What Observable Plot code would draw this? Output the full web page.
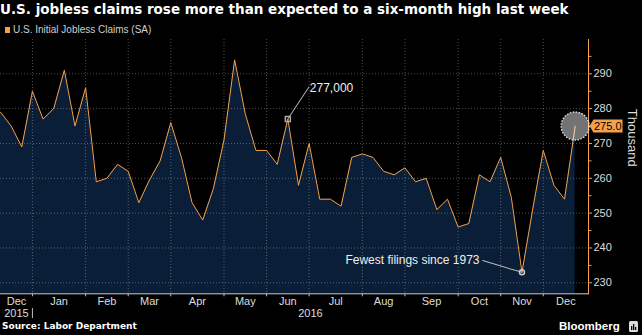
<!DOCTYPE html>
<html>
<head>
<meta charset="utf-8">
<script src="https://cdn.jsdelivr.net/npm/d3@7"></script>
<script src="https://cdn.jsdelivr.net/npm/@observablehq/plot@0.6"></script>
<style>
html,body{margin:0;padding:0;background:#000;}
#wrap{position:relative;width:642px;height:335px;overflow:hidden;background:#000;}
#title{position:absolute;left:0;top:1px;font:bold 13.5px/16px "DejaVu Sans",sans-serif;color:#fff;white-space:nowrap;}
#lgsq{position:absolute;left:5px;top:27.3px;width:5.4px;height:5.4px;background:#f5a04a;}
#lgtx{position:absolute;left:13px;top:24px;font:10px/12px "Liberation Sans",Arial,sans-serif;color:#cfcfcf;white-space:nowrap;}
#chart{position:absolute;left:0;top:39px;}
#source{position:absolute;left:2px;top:321.4px;font:bold 9px/11px "DejaVu Sans",sans-serif;color:#fff;white-space:nowrap;}
#brand{position:absolute;left:559px;top:319px;font:bold 11.5px/14px "Liberation Sans",Arial,sans-serif;color:#fff;white-space:nowrap;}
#icon{position:absolute;left:629px;top:321px;}
</style>
</head>
<body>
<div id="wrap">
  <div id="title">U.S. jobless claims rose more than expected to a six-month high last week</div>
  <div id="lgsq"></div>
  <div id="lgtx">U.S. Initial Jobless Claims (SA)</div>
  <div id="chart"></div>
  <div id="source">Source: Labor Department</div>
  <div id="brand">Bloomberg</div>
  <svg id="icon" width="9" height="11" viewBox="0 0 9 11"><rect x="0" y="0" width="9" height="11" rx="1.5" fill="#ddd"/><rect x="2" y="5" width="1.3" height="4" fill="#000"/><rect x="4" y="3" width="1.3" height="6" fill="#000"/><rect x="6" y="6" width="1.3" height="3" fill="#000"/></svg>
</div>
<script>
// ---- data (thousands, weekly, seasonally adjusted) ----
const firstWeekEnding = "2015-12-05";
const claims = [279,275,269,285,277,280,291,275,286,259,260,264,262,253,259.5,265,276,266,253,248,257,271,294,278.5,268,268,264,277,258,270,254,254,252,266,267,266,262,261,263,259,260,251,254,246,247,261,259,266,254.5,233,251,268,258,254,275];
const yTicks = [230,240,250,260,270,280,290];
const yMinorTicks = [235,245,255,265,275,285,295];
const peakLabel = "277,000";
const peakIndex = 27;
const lowLabel = "Fewest filings since 1973";
const lowIndex = 49;
const yLabel = "Thousand";

// ---- derived ----
const ORANGE = "#f5a04a", NAVY = "#0a1e37";
const dates = claims.map((_, i) => d3.utcDay.offset(new Date(firstWeekEnding + "T00:00:00Z"), 7 * i));
const rows = claims.map((v, i) => ({i, v, date: dates[i]}));
const last = rows[rows.length - 1];
const xMax = rows.length - 1 + 1.25;
const yDomain = [226.84, 299.85];

const monthStarts = d3.utcMonth.range(d3.utcMonth.ceil(dates[0]), dates[dates.length - 1]);
const tickIdx = monthStarts.map(m => d3.bisectRight(dates, m) - 1);
const bounds = [0, ...tickIdx, xMax];
const monthOf = [d3.utcMonth.floor(dates[0]), ...monthStarts];
const fmtMonth = d3.utcFormat("%b");
const monthRows = monthOf.map((m, k) => ({pos: (bounds[k] + bounds[k + 1]) / 2, label: fmtMonth(m)}));
const yearBreaks = monthStarts.map((m, k) => m.getUTCMonth() === 0 ? tickIdx[k] : null).filter(d => d !== null);
const yb = [0, ...yearBreaks, xMax];
const firstYear = dates[0].getUTCFullYear();
const yearRows = yb.slice(0, -1).map((b, k) => ({pos: (b + yb[k + 1]) / 2, label: String(firstYear + k)}));

const leader = {draw(ctx, l) { ctx.moveTo(0, 0); ctx.lineTo(0, -l); }};
const pennant = {draw(c) { c.moveTo(0, 0); c.lineTo(4, -6.5); c.lineTo(33, -6.5); c.lineTo(33, 6.5); c.lineTo(4, 6.5); c.closePath(); }};

const grid = {stroke: "#ffffff", strokeOpacity: 0.3, strokeDasharray: "1,2"};

const chart = Plot.plot({
  width: 642,
  height: 296,
  marginLeft: 0,
  marginRight: 54,
  marginTop: 0,
  marginBottom: 41.7,
  style: {background: "transparent", color: "#ddd", fontFamily: "'Liberation Sans', Arial, sans-serif", fontSize: "11px", overflow: "visible"},
  x: {type: "linear", domain: [0, xMax], axis: null},
  y: {domain: yDomain, axis: null},
  marks: [
    Plot.areaY(rows, {x: "i", y1: yDomain[0], y2: "v", fill: NAVY}),
    Plot.gridY(yTicks, grid),
    Plot.gridX(tickIdx, grid),
    Plot.lineY(rows, {x: "i", y: "v", stroke: ORANGE, strokeWidth: 1}),
    Plot.frame({anchor: "bottom", stroke: "#cccccc"}),
    Plot.frame({anchor: "right", stroke: ORANGE}),
    Plot.axisX(tickIdx, {tickSize: 3, tickFormat: () => "", stroke: "#bbbbbb", label: null}),
    Plot.axisX(yearBreaks, {tickSize: 10, dy: 14.7, tickFormat: () => "", stroke: "#bbbbbb", label: null}),
    Plot.text(monthRows, {x: "pos", text: "label", frameAnchor: "bottom", dy: 7.9, lineAnchor: "middle", fontSize: 11, fill: "#dddddd"}),
    Plot.text(yearRows, {x: "pos", text: "label", frameAnchor: "bottom", dy: 20, lineAnchor: "middle", fontSize: 11, fill: "#dddddd"}),
    Plot.axisY(yTicks, {anchor: "right", tickSize: 3, tickPadding: 2, stroke: ORANGE, fill: "#dddddd", fontSize: 11, label: null}),
    Plot.axisY(yMinorTicks, {anchor: "right", tickSize: 2.5, tickFormat: () => "", stroke: ORANGE, label: null}),
    Plot.text([yLabel], {frameAnchor: "right", dx: 44, rotate: 90, fontSize: 13, fill: "#dddddd"}),
    // annotations
    Plot.vector([rows[peakIndex]], {x: "i", y: "v", length: 38.3, rotate: 33.3, anchor: "start", shape: leader, stroke: "#aaaaaa", strokeWidth: 1}),
    Plot.dot([rows[peakIndex]], {x: "i", y: "v", symbol: "square", r: 2.8, stroke: "#aaaaaa", fill: "none"}),
    Plot.text([rows[peakIndex]], {x: "i", y: "v", text: () => peakLabel, dx: 22, dy: -31, textAnchor: "start", lineAnchor: "middle", fill: "#eeeeee", fontSize: 12}),
    Plot.vector([rows[lowIndex]], {x: "i", y: "v", length: 41, rotate: -73.3, anchor: "start", shape: leader, stroke: "#bbbbbb", strokeWidth: 1}),
    Plot.dot([rows[lowIndex]], {x: "i", y: "v", r: 2.5, stroke: "#cccccc", fill: "none"}),
    Plot.text([rows[lowIndex]], {x: "i", y: "v", text: () => lowLabel, dx: -42.5, dy: -12.3, textAnchor: "end", lineAnchor: "middle", fill: "#eeeeee", fontSize: 12}),
    // last value highlight
    Plot.dot([last], {x: "i", y: "v", r: 14, fill: "#ffffff", fillOpacity: 0.45, stroke: "#dddddd", strokeDasharray: "1.5,1.5"}),
    Plot.dot([last], {y: "v", frameAnchor: "right", symbol: pennant, dx: 1, fill: ORANGE, stroke: "none"}),
    Plot.text([last], {y: "v", frameAnchor: "right", text: d => d.v.toFixed(1), dx: 5.5, textAnchor: "start", lineAnchor: "middle", fill: "#000000", fontSize: 11})
  ]
});
document.getElementById("chart").appendChild(chart);
</script>
</body>
</html>
